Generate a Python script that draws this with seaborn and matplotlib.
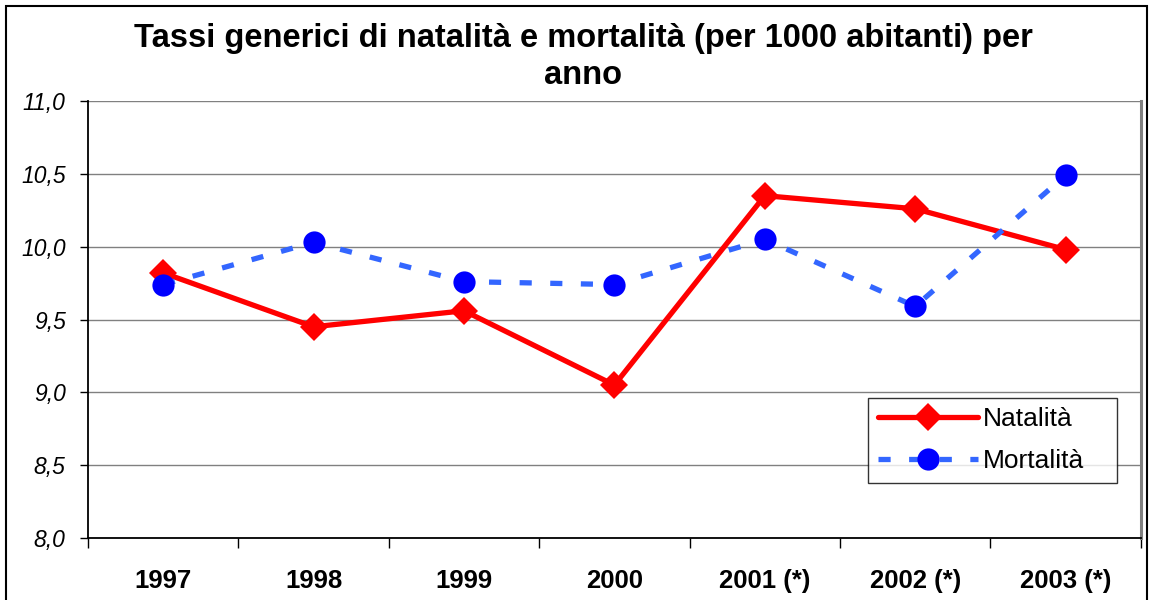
import matplotlib
matplotlib.use("Agg")
import matplotlib.pyplot as plt
from matplotlib.patches import Rectangle
import pandas as pd
import seaborn as sns

# Data
ANNI = ["1997", "1998", "1999", "2000", "2001 (*)", "2002 (*)", "2003 (*)"]
NATALITA = [9.82, 9.45, 9.56, 9.05, 10.35, 10.26, 9.98]
MORTALITA = [9.74, 10.03, 9.76, 9.74, 10.05, 9.59, 10.49]
Y_TICKS = [8.0, 8.5, 9.0, 9.5, 10.0, 10.5, 11.0]

TITLE = "Tassi generici di natalità e mortalità (per 1000 abitanti) per\nanno"

df = pd.DataFrame({"anno": ANNI, "Natalità": NATALITA, "Mortalità": MORTALITA})

sns.set_theme(style="white")
plt.rcParams["font.family"] = ["Liberation Sans", "DejaVu Sans"]
plt.rcParams["text.color"] = "black"
plt.rcParams["xtick.color"] = "black"
plt.rcParams["ytick.color"] = "black"

fig = plt.figure(figsize=(11.5, 6), dpi=100)
ax = fig.add_axes([0.0765, 0.1033, 0.9155, 0.7284])

sns.lineplot(data=df, x="anno", y="Natalità", ax=ax, color="#FF0000",
             linewidth=3.8, marker="D", markersize=14, markeredgewidth=0,
             label="Natalità", sort=False)
sns.lineplot(data=df, x="anno", y="Mortalità", ax=ax, color="#3366FF",
             linewidth=3.8, marker="o", markersize=16, markerfacecolor="#0000FF",
             markeredgewidth=0, label="Mortalità", sort=False)
ax.lines[-1].set_dashes((2.3, 3.5))

ax.set_xlim(-0.5, len(ANNI) - 0.5)
ax.set_ylim(Y_TICKS[0], Y_TICKS[-1])
ax.set_yticks(Y_TICKS)
ax.set_yticklabels([f"{v:.1f}".replace(".", ",") for v in Y_TICKS],
                   fontsize=16.5, fontstyle="italic")
ax.set_xticks(range(len(ANNI)))
ax.set_xticklabels(ANNI, fontsize=18.5, fontweight="bold")
ax.set_xlabel("")
ax.set_ylabel("")

# horizontal gridlines, outward ticks between categories
ax.yaxis.grid(True, color="#808080", linewidth=1)
ax.xaxis.grid(False)
ax.set_axisbelow(True)
ax.tick_params(axis="y", which="major", direction="out", length=6, width=1,
               color="black", left=True, pad=10)
ax.tick_params(axis="x", which="major", length=0, pad=22)
ax.set_xticks([i + 0.5 for i in range(-1, len(ANNI))], minor=True)
ax.tick_params(axis="x", which="minor", direction="out", length=7, width=1,
               color="black", bottom=True)

for side in ["left", "bottom"]:
    ax.spines[side].set_color("black")
    ax.spines[side].set_linewidth(1.3)
ax.spines["top"].set_visible(False)
ax.spines["right"].set_color("#808080")
ax.spines["right"].set_linewidth(2.2)

leg = ax.legend(loc="lower left", bbox_to_anchor=(0.741, 0.126, 0.236, 0.2),
                mode="expand", fontsize=19, frameon=True, fancybox=False,
                edgecolor="black", handlelength=3.8, borderpad=0.36,
                labelspacing=0.69, handletextpad=0.2, borderaxespad=0)
leg.get_frame().set_linewidth(1)

fig.text(0.507, 0.962, TITLE, ha="center", va="top", fontsize=23.5,
         fontweight="bold", linespacing=1.25)

fig.add_artist(Rectangle((0.005, -0.01), 0.992, 1.0, transform=fig.transFigure,
                         fill=False, edgecolor="black", linewidth=1.5))

fig.savefig("out.png", dpi=100)
plt.close(fig)
